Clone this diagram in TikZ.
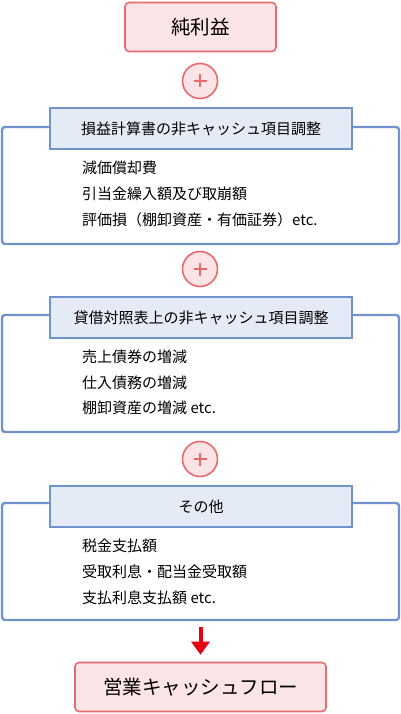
\documentclass[tikz,border=0pt]{standalone}
\usepackage{fontspec}
\setmainfont{Noto Sans CJK JP}
\usetikzlibrary{arrows.meta}
\definecolor{boxred}{HTML}{E96A6C}
\definecolor{boxpink}{HTML}{FBE4E5}
\definecolor{grpblue}{HTML}{7092CD}
\definecolor{titleblue}{HTML}{E4EBF7}
\definecolor{arrred}{HTML}{E50012}

\begin{document}
\begin{tikzpicture}[x=1pt,y=1pt,yscale=-1,xscale=1,
    pinkbox/.style={draw=boxred,fill=boxpink,line width=1.6pt,rounded corners=4pt,minimum height=49pt,font=\fontsize{19.5}{22}\selectfont},
    plusnode/.style={circle,draw=boxred,fill=boxpink,line width=1.6pt,minimum size=35pt,inner sep=0pt,
        path picture={\draw[boxred,line width=1.2pt] (path picture bounding box.center) ++(-6.5,0) -- ++(13,0)
            (path picture bounding box.center) ++(0,-6.5) -- ++(0,13);}},
    grpbox/.style={draw=grpblue,line width=2.4pt,rounded corners=3pt,minimum width=397pt,minimum height=117pt,inner sep=0pt},
    titlebox/.style={draw=grpblue,fill=titleblue,line width=1.4pt,minimum width=302pt,minimum height=41pt,inner sep=0pt,font=\fontsize{15}{17}\selectfont},
    txt/.style={anchor=west,inner sep=0pt,font=\fontsize{15}{17}\selectfont},
    arr/.style={arrred,line width=4pt,-{Triangle[width=18pt,length=13pt]}}]
    \useasboundingbox (0,0) rectangle (401,714);

    % Net income
    \node (ni) [pinkbox,minimum width=151pt] at (200.5,27) {純利益};
    \node (p1) [plusnode] at (200,81) {};

    % Group 1
    \node (grp1) [grpbox] at (200.5,185.5) {};
    \node (t1) [titlebox] at (201,128.5) {損益計算書の非キャッシュ項目調整};
    % Text Node
    \node (l1a) [txt] at (82,168) {減価償却費};
    \node (l1b) [txt] at (82,194) {引当金繰入額及び取崩額};
    \node (l1c) [txt] at (82,220) {評価損（棚卸資産・有価証券）etc.};

    \node (p2) [plusnode] at (200,269) {};

    % Group 2
    \node (grp2) [grpbox] at (200.5,373.5) {};
    \node (t2) [titlebox] at (201,317.5) {貸借対照表上の非キャッシュ項目調整};
    % Text Node
    \node (l2a) [txt] at (82,357) {売上債券の増減};
    \node (l2b) [txt] at (82,383) {仕入債務の増減};
    \node (l2c) [txt] at (82,408) {棚卸資産の増減 etc.};

    \node (p3) [plusnode] at (200,459) {};

    % Group 3
    \node (grp3) [grpbox] at (200.5,561.5) {};
    \node (t3) [titlebox] at (201,506.5) {その他};
    % Text Node
    \node (l3a) [txt] at (82,546) {税金支払額};
    \node (l3b) [txt] at (82,572) {受取利息・配当金受取額};
    \node (l3c) [txt] at (82,598) {支払利息支払額 etc.};

    % Operating cash flow
    \node (cf) [pinkbox,minimum width=251pt] at (200.5,687) {営業キャッシュフロー};
    \draw [arr,shorten <=6pt,shorten >=7pt] (grp3) -- (cf);
\end{tikzpicture}
\end{document}
